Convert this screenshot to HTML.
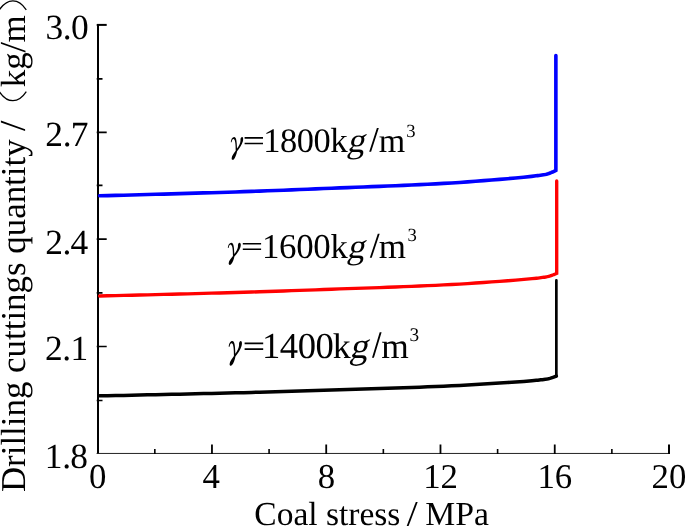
<!DOCTYPE html>
<html><head><meta charset="utf-8">
<style>
html,body{margin:0;padding:0;background:#fff;}
body{width:685px;height:526px;overflow:hidden;}
svg{display:block;will-change:transform;opacity:0.999;}
text{font-family:"Liberation Serif",serif;fill:#000;text-rendering:geometricPrecision;}
</style></head><body>
<svg width="685" height="526" viewBox="0 0 685 526">
<rect width="685" height="526" fill="#fff"/>
<!-- axes -->
<g stroke="#000" fill="none" stroke-linecap="butt">
<path stroke-width="2" d="M98 23.9V454.1"/>
<path stroke-width="1" stroke="#222" d="M96.6 453.45H670"/>
<path stroke-width="2" d="M96.7 24.9H106.7"/>
<path stroke-width="1.6" d="M96.7 132.4H106.7M96.7 239.15H106.7M96.7 346.5H106.7"/>
<path stroke-width="1.6" d="M96.7 78.9H102.5M96.7 185.4H102.5M96.7 292.9H102.5M96.7 400.5H102.5"/>
<path stroke-width="1.8" d="M211.96 454.1V444.4M326.22 454.1V444.4M440.48 454.1V444.4M554.74 454.1V444.4"/>
<path stroke-width="2" d="M669 454.1V444.4"/>
<path stroke-width="1.6" d="M154.83 454.1V448.9M269.09 454.1V448.9M383.35 454.1V448.9M497.61 454.1V448.9M611.87 454.1V448.9"/>
</g>
<!-- curves -->
<g fill="none" stroke-linejoin="miter" stroke-miterlimit="3" stroke-linecap="round">
<path stroke="#0000ff" stroke-width="3.6" d="M99.60 195.81 L107.60 195.60 L115.60 195.40 L123.60 195.18 L131.60 194.97 L139.60 194.75 L147.60 194.53 L155.60 194.31 L163.60 194.08 L171.60 193.85 L179.60 193.62 L187.60 193.39 L195.60 193.16 L203.60 192.92 L211.60 192.68 L219.60 192.44 L227.60 192.19 L235.60 191.93 L243.60 191.67 L251.60 191.39 L259.60 191.11 L267.60 190.81 L275.60 190.50 L283.60 190.19 L291.60 189.87 L299.60 189.54 L307.60 189.21 L315.60 188.88 L323.60 188.56 L331.60 188.24 L339.60 187.92 L347.60 187.61 L355.60 187.29 L363.60 186.98 L371.60 186.67 L379.60 186.34 L387.60 186.02 L395.60 185.68 L403.60 185.34 L411.60 184.98 L419.60 184.61 L427.60 184.24 L435.60 183.84 L443.60 183.42 L451.60 182.95 L459.60 182.44 L467.60 181.87 L475.60 181.27 L483.60 180.65 L491.60 180.02 L499.60 179.36 L507.60 178.68 L515.60 177.96 L523.60 177.20 L531.60 176.35 L536.00 175.83 L537.50 175.65 L539.00 175.44 L540.50 175.23 L542.00 175.00 L543.50 174.75 L545.00 174.48 L546.50 174.16 L548.00 173.79 L549.50 173.27 L551.00 172.67 L552.50 172.02 L553.00 171.78 L554.00 171.30 L555.00 170.80 L555.87 170.35 L555.87 55.5"/>
<path stroke="#ff0000" stroke-width="3.35" d="M99.60 295.96 L107.60 295.78 L115.60 295.60 L123.60 295.41 L131.60 295.22 L139.60 295.02 L147.60 294.83 L155.60 294.63 L163.60 294.43 L171.60 294.23 L179.60 294.02 L187.60 293.82 L195.60 293.61 L203.60 293.40 L211.60 293.19 L219.60 292.97 L227.60 292.75 L235.60 292.52 L243.60 292.28 L251.60 292.04 L259.60 291.79 L267.60 291.52 L275.60 291.25 L283.60 290.97 L291.60 290.68 L299.60 290.39 L307.60 290.10 L315.60 289.81 L323.60 289.52 L331.60 289.23 L339.60 288.95 L347.60 288.67 L355.60 288.39 L363.60 288.12 L371.60 287.83 L379.60 287.55 L387.60 287.26 L395.60 286.96 L403.60 286.65 L411.60 286.33 L419.60 286.01 L427.60 285.67 L435.60 285.32 L443.60 284.95 L451.60 284.54 L459.60 284.08 L467.60 283.57 L475.60 283.04 L483.60 282.49 L491.60 281.93 L499.60 281.34 L507.71 280.74 L515.83 280.10 L523.95 279.42 L532.07 278.66 L536.53 278.21 L538.06 278.04 L539.58 277.86 L541.10 277.66 L542.62 277.46 L544.15 277.24 L545.67 277.00 L547.19 276.72 L548.71 276.39 L550.24 275.93 L551.76 275.39 L553.28 274.81 L553.79 274.60 L554.80 274.18 L555.82 273.73 L556.70 273.33 L556.7 181.0"/>
<path stroke="#000000" stroke-width="3.5" d="M99.60 395.87 L107.60 395.71 L115.60 395.55 L123.60 395.38 L131.60 395.22 L139.60 395.05 L147.60 394.87 L155.60 394.70 L163.60 394.53 L171.60 394.35 L179.60 394.17 L187.60 393.99 L195.60 393.81 L203.60 393.62 L211.60 393.44 L219.60 393.25 L227.60 393.05 L235.60 392.85 L243.60 392.65 L251.60 392.43 L259.60 392.21 L267.60 391.98 L275.60 391.74 L283.60 391.49 L291.60 391.24 L299.60 390.99 L307.60 390.74 L315.60 390.48 L323.60 390.23 L331.60 389.98 L339.60 389.73 L347.60 389.49 L355.60 389.24 L363.60 389.00 L371.60 388.75 L379.60 388.50 L387.60 388.25 L395.60 387.99 L403.60 387.72 L411.60 387.44 L419.60 387.16 L427.60 386.86 L435.60 386.56 L443.60 386.23 L451.60 385.87 L459.60 385.46 L467.60 385.02 L475.60 384.56 L483.60 384.07 L491.60 383.58 L499.60 383.07 L507.67 382.54 L515.73 381.98 L523.80 381.39 L531.87 380.73 L536.31 380.33 L537.82 380.18 L539.34 380.02 L540.85 379.85 L542.36 379.68 L543.87 379.49 L545.39 379.27 L546.90 379.03 L548.41 378.74 L549.93 378.34 L551.44 377.86 L552.95 377.36 L553.46 377.18 L554.46 376.80 L555.47 376.41 L556.35 376.06"/>
<path stroke="#000000" stroke-width="2.7" d="M556.35 376.36 V280.45"/>
</g>
<!-- y tick labels -->
<g font-size="35.4px">
<text y="38.6" x="45.45 62.85 70.90">3.0</text>
<text y="146.1" x="45.35 62.75 70.80">2.7</text>
<text y="253.5" x="45.15 62.55 70.60">2.4</text>
<text y="360.2" x="44.95 62.35 70.40">2.1</text>
<text y="468.2" x="44.85 62.25 70.30">1.8</text>
</g>
<!-- x tick labels -->
<g font-size="34.8px" text-anchor="middle">
<text x="97.6" y="488.3">0</text>
<text x="211.2" y="488.3">4</text>
<text x="326.4" y="488.3">8</text>
<text x="440.6" y="488.3">12</text>
<text x="554.8" y="488.3">16</text>
<text x="669" y="488.3">20</text>
</g>
<text x="254.3" y="524.5" font-size="33.5px">Coal stress</text>
<text x="425.3" y="524.5" font-size="33.7px">MPa</text>
<path d="M415.8 502L417.7 502L408.5 526.2L406.6 526.2Z" fill="#000"/>
<!-- y label -->
<g transform="translate(25.4 492.3) rotate(-90)">
<text x="0.2" y="0" font-size="34.9px">Drilling cuttings quantity</text>
<text y="0" font-size="35px"><tspan x="405.1">kg</tspan><tspan x="449.8">m</tspan></text>
<path d="M361.2 -0.3L363.1 -0.3L371.7 -24.5L369.8 -24.5Z M439.7 0.1L441.6 0.1L450.4 -24.5L448.5 -24.5Z" fill="#000"/>
<path d="M400.6 -26 C388.6 -18 388.6 -7 400.6 0.9" stroke="#000" stroke-width="1.25" fill="none"/>
<path d="M482.5 -26 C494.5 -18 494.5 -7 482.5 0.9" stroke="#000" stroke-width="1.25" fill="none"/>
</g>
<!-- annotations -->
<!-- label 1 -->
<path transform="translate(230.8 136.8)" d="M0,5.4 C0.2,2.6 1.5,0.1 3.4,0.1 C5.4,0.1 6.0,3.8 6.2,11.8 C8.0,9.4 9.6,6.4 9.7,4.0 C9.5,2.4 9.9,0.1 11.2,0.1 C12.6,0.1 12.6,2.8 12.0,4.8 C11.0,8.2 8.7,11.6 6.3,14.4 C5.8,17.3 4.5,21 2.9,22.6 C2.0,23.5 0.6,23.0 0.9,21.1 C0.9,19.0 3.3,16.3 4.9,13.9 C4.9,8.2 4.6,2.6 2.9,2.1 C1.7,1.9 1.1,3.6 0.8,5.5 Z"/>
<path d="M244.6 137.9h18.4M244.6 143.5h18.4" stroke="#000" stroke-width="1.6"/>
<text y="151.8" font-size="34.4px"><tspan x="263.25" letter-spacing="-0.45">1800</tspan><tspan x="330.2" y="152.1" font-size="35px">k</tspan><tspan x="378.7" font-size="34px">m</tspan><tspan font-size="18.6px" x="406.2" y="136.9">3</tspan></text>
<!-- label 2 -->
<path transform="translate(227.8 242.6) scale(1.05 0.97)" d="M0,5.4 C0.2,2.6 1.5,0.1 3.4,0.1 C5.4,0.1 6.0,3.8 6.2,11.8 C8.0,9.4 9.6,6.4 9.7,4.0 C9.5,2.4 9.9,0.1 11.2,0.1 C12.6,0.1 12.6,2.8 12.0,4.8 C11.0,8.2 8.7,11.6 6.3,14.4 C5.8,17.3 4.5,21 2.9,22.6 C2.0,23.5 0.6,23.0 0.9,21.1 C0.9,19.0 3.3,16.3 4.9,13.9 C4.9,8.2 4.6,2.6 2.9,2.1 C1.7,1.9 1.1,3.6 0.8,5.5 Z"/>
<path d="M242.8 243.7h18.3M242.8 249.3h18.3" stroke="#000" stroke-width="1.6"/>
<text y="257.7" font-size="34.9px"><tspan x="261.9" letter-spacing="-0.3">1600</tspan><tspan x="330.5" y="257.8" font-size="34.5px">k</tspan><tspan x="378.7" font-size="35px">m</tspan><tspan font-size="18.7px" x="407.4" y="241.4">3</tspan></text>
<!-- label 3 -->
<path transform="translate(228.7 340.9) scale(1.07 1.08)" d="M0,5.4 C0.2,2.6 1.5,0.1 3.4,0.1 C5.4,0.1 6.0,3.8 6.2,11.8 C8.0,9.4 9.6,6.4 9.7,4.0 C9.5,2.4 9.9,0.1 11.2,0.1 C12.6,0.1 12.6,2.8 12.0,4.8 C11.0,8.2 8.7,11.6 6.3,14.4 C5.8,17.3 4.5,21 2.9,22.6 C2.0,23.5 0.6,23.0 0.9,21.1 C0.9,19.0 3.3,16.3 4.9,13.9 C4.9,8.2 4.6,2.6 2.9,2.1 C1.7,1.9 1.1,3.6 0.8,5.5 Z"/>
<path d="M244.6 343.4h18.6M244.6 349.1h18.6" stroke="#000" stroke-width="1.6"/>
<text y="357.5" font-size="36.6px"><tspan x="261.9" letter-spacing="-0.4">1400</tspan><tspan x="332.7" y="357.6" font-size="35.8px">k</tspan><tspan x="381.35" font-size="35.4px">m</tspan><tspan font-size="19.3px" x="409.6" y="341.2">3</tspan></text>
<!-- skewed g -->
<text transform="translate(346.8 152.1) skewX(-13)" font-size="35px">g</text>
<text transform="translate(346.7 257.8) skewX(-13)" font-size="35px">g</text>
<text transform="translate(349.2 357.6) skewX(-13)" font-size="36.5px">g</text>
<!-- slashes -->
<path d="M369.2 151.8L371.1 151.8L378.8 128.1L376.9 128.1Z M369.8 257.8L371.7 257.8L379.7 233.8L377.8 233.8Z M372 357.7L373.9 357.7L381.6 332.3L379.7 332.3Z" fill="#000"/>
</svg>
</body></html>
